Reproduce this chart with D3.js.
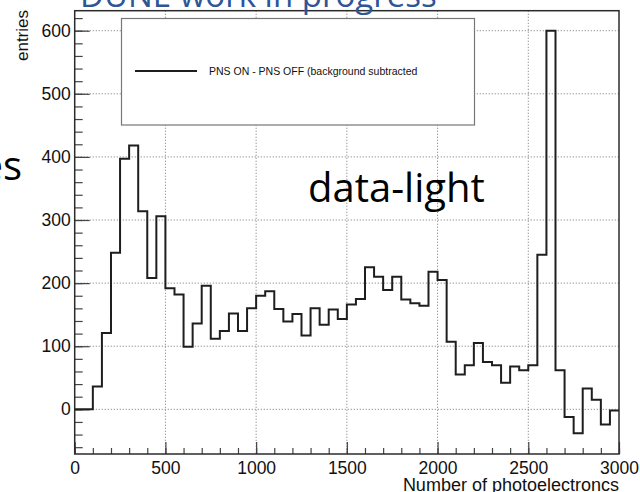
<!DOCTYPE html>
<html>
<head>
<meta charset="utf-8">
<script src="https://cdn.jsdelivr.net/npm/d3@7"></script>
<style>
  body { margin: 0; background: #fff; }
  svg { display: block; }
</style>
</head>
<body>
<div id="chart"></div>
<script>
// histogram: 60 bins of 50 photoelectrons, 0..3000
let binWidth = 50;
let binStarts = d3.range(0, 3000, binWidth);
let counts = [
    0, 0, 36, 121, 248, 397, 418, 314, 208, 306,
    192, 182, 99, 136, 196, 112, 124, 152, 124, 160,
    180, 187, 159, 139, 151, 117, 160, 134, 158, 143,
    166, 175, 225, 210, 189, 210, 174, 168, 164, 218,
    205, 107, 55, 70, 105, 75, 70, 42, 68, 62,
    70, 245, 600, 62, -12, -38, 33, 15, -24, -2
];
let xTicks = [0, 500, 1000, 1500, 2000, 2500, 3000];
let yTicks = [0, 100, 200, 300, 400, 500, 600];
let legendLabel = "PNS ON - PNS OFF (background subtracted";

let svgWidth = 640;
let svgHeight = 492;
let mar = { top: 10.7, bottom: 38, left: 74.7, right: 21 };
let wdt = svgWidth - mar.left - mar.right;
let hgt = svgHeight - mar.top - mar.bottom;

let svg = d3.select("#chart")
    .append("svg")
    .attr("width", svgWidth)
    .attr("height", svgHeight);

let chart = svg.append("g")
    .attr("transform", `translate(${mar.left}, ${mar.top})`);

let x = d3.scaleLinear().domain([0, 3000]).range([0, wdt]);
let y = d3.scaleLinear().domain([-70.8, 631.7]).range([hgt, 0]);

// dotted grid
chart.append("g").selectAll("line")
    .data(xTicks.slice(1, -1))
    .enter()
    .append("line")
    .attr("x1", d => x(d)).attr("x2", d => x(d))
    .attr("y1", 0).attr("y2", hgt)
    .attr("stroke", "#8a8a8a")
    .attr("stroke-dasharray", "1.2,1.8");

chart.append("g").selectAll("line")
    .data(yTicks)
    .enter()
    .append("line")
    .attr("x1", 0).attr("x2", wdt)
    .attr("y1", d => y(d)).attr("y2", d => y(d))
    .attr("stroke", "#8a8a8a")
    .attr("stroke-dasharray", "1.2,1.8");

// axes (ROOT style, ticks pointing inward)
let font = "'Liberation Sans', Arial, sans-serif";
let fmt = d3.format("d");

let xMinor = chart.append("g")
    .attr("transform", `translate(0, ${hgt})`)
    .call(d3.axisBottom(x).tickValues(d3.range(0, 3001, 100)).tickSizeInner(-6).tickSizeOuter(0).tickFormat(""));
let xAxis = chart.append("g")
    .attr("transform", `translate(0, ${hgt})`)
    .call(d3.axisBottom(x).tickValues(xTicks).tickSizeInner(-12).tickSizeOuter(0).tickPadding(8).tickFormat(fmt));

let yMinor = chart.append("g")
    .call(d3.axisLeft(y).tickValues(d3.range(-60, 621, 20)).tickSizeInner(-8).tickSizeOuter(0).tickFormat(""));
let yAxis = chart.append("g")
    .call(d3.axisLeft(y).tickValues(yTicks).tickSizeInner(-15).tickSizeOuter(0).tickPadding(4).tickFormat(fmt));

[xMinor, xAxis, yMinor, yAxis].forEach(function (a) {
    a.select(".domain").remove();
    a.selectAll(".tick line").attr("stroke", "#444").attr("stroke-width", 1.2);
    a.selectAll("text")
        .attr("font-family", font)
        .attr("font-size", 17.5)
        .attr("fill", "#111");
});

// histogram outline
let pts = binStarts.map((b, i) => [b, counts[i]]);
pts.push([3000, counts[counts.length - 1]]);
let stepLine = d3.line()
    .x(d => x(d[0]))
    .y(d => y(d[1]))
    .curve(d3.curveStepAfter);

chart.append("path")
    .datum(pts)
    .attr("d", stepLine)
    .attr("fill", "none")
    .attr("stroke", "#1e1e1e")
    .attr("stroke-width", 2);

// frame
chart.append("rect")
    .attr("x", 0).attr("y", 0)
    .attr("width", wdt).attr("height", hgt)
    .attr("fill", "none")
    .attr("stroke", "#2b2b2b")
    .attr("stroke-width", 1.5);

// legend
let legend = svg.append("g");
legend.append("rect")
    .attr("x", 121.5).attr("y", 18.5)
    .attr("width", 353).attr("height", 106.5)
    .attr("fill", "#fff")
    .attr("stroke", "#777")
    .attr("stroke-width", 1.2);
legend.append("line")
    .attr("x1", 135).attr("x2", 197)
    .attr("y1", 71).attr("y2", 71)
    .attr("stroke", "#1e1e1e")
    .attr("stroke-width", 2);
legend.append("text")
    .attr("x", 209).attr("y", 74.5)
    .attr("font-family", font)
    .attr("font-size", 10.5)
    .attr("fill", "#111")
    .text(legendLabel);

// axis titles
svg.append("text")
    .attr("x", 619).attr("y", 490.5)
    .attr("text-anchor", "end")
    .attr("font-family", font)
    .attr("font-size", 18)
    .attr("fill", "#111")
    .text("Number of photoelectroncs");

svg.append("text")
    .attr("transform", "translate(28, 10) rotate(-90)")
    .attr("text-anchor", "end")
    .attr("font-family", font)
    .attr("font-size", 17)
    .attr("fill", "#111")
    .text("entries");

// slide overlays
let slideFont = "'Open Sans', 'Noto Sans', sans-serif";
svg.append("text")
    .attr("x", 80).attr("y", 7)
    .attr("font-family", slideFont)
    .attr("font-size", 33)
    .attr("fill", "#2f5597")
    .text("DUNE work in progress");

svg.append("text")
    .attr("x", 308).attr("y", 201.5)
    .attr("font-family", slideFont)
    .attr("font-size", 40)
    .attr("fill", "#000")
    .text("data-light");

svg.append("text")
    .attr("x", 22).attr("y", 180)
    .attr("text-anchor", "end")
    .attr("font-family", slideFont)
    .attr("font-size", 40)
    .attr("fill", "#000")
    .text("es");
</script>
</body>
</html>
